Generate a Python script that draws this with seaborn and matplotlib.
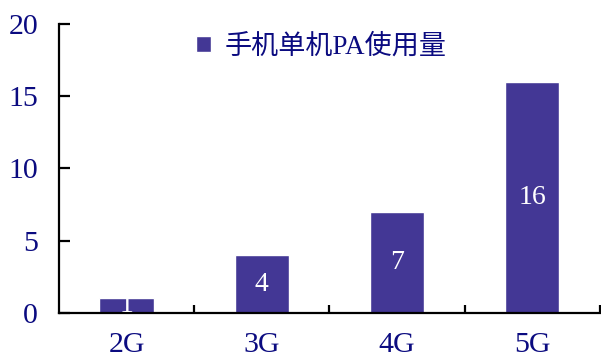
import matplotlib
matplotlib.use("Agg")
import matplotlib.pyplot as plt
import seaborn as sns
import pandas as pd
from matplotlib.ticker import FixedLocator

generations = ["2G", "3G", "4G", "5G"]
pa_counts = [1, 4, 7, 16]
series_name = "手机单机PA使用量"
y_ticks = [0, 5, 10, 15, 20]

sns.set_theme(style="white")
plt.rcParams["font.family"] = ["Liberation Serif", "Noto Sans CJK SC"]

bar_color = "#433795"
text_color = "#0b0b80"

df = pd.DataFrame({"gen": generations, "count": pa_counts})

fig = plt.figure(figsize=(6.01, 3.58), dpi=100)
ax = fig.add_axes([0.098, 0.126, 0.9, 0.807])

sns.barplot(data=df, x="gen", y="count", color=bar_color, saturation=1,
            width=0.40, label=series_name, ax=ax)

ax.bar_label(ax.containers[0], labels=[str(v) for v in pa_counts],
             label_type="center", color="white", fontsize=20)

ax.set_xlim(-0.5, 3.5)
ax.set_ylim(0, 20)
ax.set_yticks(y_ticks)
ax.set_xlabel("")
ax.set_ylabel("")

for s in ["top", "right"]:
    ax.spines[s].set_visible(False)
for s in ["left", "bottom"]:
    ax.spines[s].set_color("black")
    ax.spines[s].set_linewidth(1.6)

ax.tick_params(axis="y", direction="in", length=8, width=1.6, color="black",
               labelsize=21.5, labelcolor=text_color, pad=15, left=True)
ax.tick_params(axis="x", which="major", length=0, labelsize=21.5,
               labelcolor=text_color, pad=14)
ax.xaxis.set_minor_locator(FixedLocator([0.5, 1.5, 2.5, 3.5]))
ax.tick_params(axis="x", which="minor", direction="in", length=6, width=1.6,
               color="black", bottom=True)

leg = ax.legend(loc="upper center", bbox_to_anchor=(0.485, 1.05), frameon=False,
                handlelength=0.55, handleheight=0.55, handletextpad=0.5,
                fontsize=19.5)
for t in leg.get_texts():
    t.set_color(text_color)

fig.savefig("out.png", dpi=100)
